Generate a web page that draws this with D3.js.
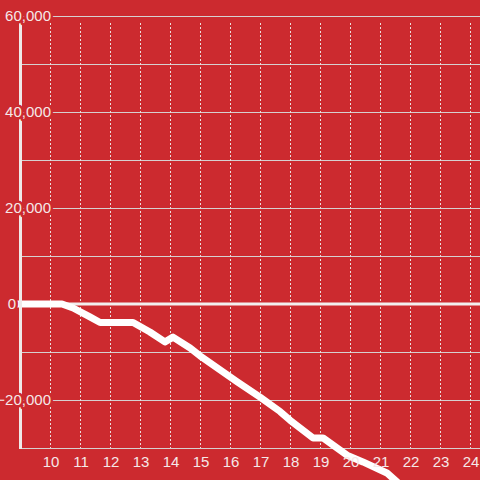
<!DOCTYPE html>
<html>
<head>
<meta charset="utf-8">
<script src="https://cdn.jsdelivr.net/npm/d3@7"></script>
<style>
  body { margin: 0; background: #cc2a2f; }
  svg { display: block; }
  text { font-family: "Liberation Sans", Arial, sans-serif; font-size: 15px; fill: #f5e8e8; }
  .halo { stroke: #cc2a2f; stroke-width: 5px; paint-order: stroke; stroke-linejoin: round; }
</style>
</head>
<body>
<div id="idChart"></div>
<script>
// data
var xValues = [9, 10.4, 10.77, 11.33, 11.67, 12.77, 13.33, 13.83, 14.1, 14.67, 15, 16.23, 17, 17.67, 18, 18.77, 19.1, 19.9, 20.43, 21.23, 21.5];
var yValues = [0, 0, -830, -2700, -3850, -3850, -5830, -7900, -6900, -9170, -10800, -16150, -19400, -22400, -24200, -27900, -27900, -31500, -32900, -35200, -36700];
var xTicks = [10, 11, 12, 13, 14, 15, 16, 17, 18, 19, 20, 21, 22, 23, 24];
var yLabelTicks = [60000, 40000, 20000, 0, -20000];
var yGridTicks = [60000, 50000, 40000, 30000, 20000, 10000, -10000, -20000, -30000];

var iWidth = 480, iHeight = 480;
var iLeft = 20, iTop = 16, iBottom = 448;

var rows = xValues.map(function(d, i) { return {x: d, y: yValues[i]}; });

var x = d3.scaleLinear().domain([9, 9 + (iWidth - iLeft) / 30]).range([iLeft, iWidth]);
var y = d3.scaleLinear().domain([-30000, 60000]).range([iBottom, iTop]);

var svg = d3.select("#idChart").append("svg")
    .attr("width", iWidth).attr("height", iHeight);

// horizontal grid
svg.append("g").selectAll("line")
    .data(yGridTicks)
    .enter().append("line")
    .attr("x1", iLeft).attr("x2", iWidth)
    .attr("y1", function(d) { return y(d) + 0.5; })
    .attr("y2", function(d) { return y(d) + 0.5; })
    .attr("stroke", "#d6d0d0")
    .attr("stroke-width", 1);

// vertical dotted grid
svg.append("g").selectAll("line")
    .data(xTicks)
    .enter().append("line")
    .attr("x1", function(d) { return Math.round(x(d)) + 0.5; })
    .attr("x2", function(d) { return Math.round(x(d)) + 0.5; })
    .attr("y1", iTop + 7).attr("y2", iBottom)
    .attr("stroke", "#eadede")
    .attr("stroke-dasharray", "2,2")
    .attr("stroke-width", 1);

// zero line
svg.append("line")
    .attr("x1", iLeft - 3).attr("x2", iWidth)
    .attr("y1", y(0)).attr("y2", y(0))
    .attr("stroke", "#f2eeee")
    .attr("stroke-width", 3);

var valueLine = d3.line()
    .x(function(d) { return x(d.x); })
    .y(function(d) { return y(d.y); });

svg.append("path")
    .attr("d", valueLine(rows))
    .attr("fill", "none")
    .attr("stroke", "#ffffff")
    .attr("stroke-width", 7)
    .attr("stroke-linecap", "square")
    .attr("stroke-linejoin", "round");

// y axis line
svg.append("line")
    .attr("x1", iLeft + 0.5).attr("x2", iLeft + 0.5)
    .attr("y1", iTop).attr("y2", iBottom + 1)
    .attr("stroke", "#efe9e9")
    .attr("stroke-width", 3);

// y labels, with a halo in the background colour
svg.append("g").selectAll("text")
    .data(yLabelTicks)
    .enter().append("text")
    .attr("class", "halo")
    .attr("x", function(d) { return d === 0 ? 16 : 51; })
    .attr("y", function(d) { return y(d); })
    .attr("dy", "0.35em")
    .style("text-anchor", "end")
    .text(function(d) { return d3.format(",")(d); });

// x labels
svg.append("g").selectAll("text")
    .data(xTicks)
    .enter().append("text")
    .attr("x", function(d) { return x(d) + 1; })
    .attr("y", 467)
    .style("text-anchor", "middle")
    .text(function(d) { return d; });
</script>
</body>
</html>
